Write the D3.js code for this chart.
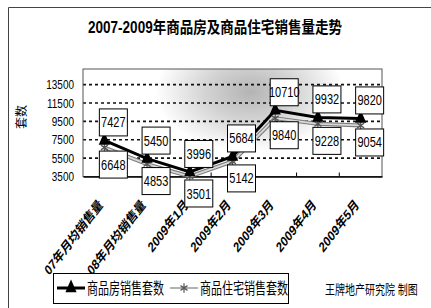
<!DOCTYPE html>
<html>
<head>
<meta charset="utf-8">
<script src="https://cdn.jsdelivr.net/npm/d3@7"></script>
<style>
  html, body { margin: 0; padding: 0; background: #fff; }
  svg { display: block; }
  text { font-family: "Liberation Sans", "Noto Sans CJK SC", sans-serif; fill: #000; }
</style>
</head>
<body>
<div id="chart"></div>
<script>
const categories = ["07年月均销售量", "08年月均销售量", "2009年1月", "2009年2月", "2009年3月", "2009年4月", "2009年5月"];
const houseSales = [7427, 5450, 3996, 5684, 10710, 9932, 9820];
const residentialSales = [6648, 4853, 3501, 5142, 9840, 9228, 9054];
const yTicks = [3500, 5500, 7500, 9500, 11500, 13500];
const seriesNames = ["商品房销售套数", "商品住宅销售套数"];
const title = "2007-2009年商品房及商品住宅销售量走势";
const yTitle = "套数";
const credit = "王牌地产研究院 制图";

const W = 431, H = 308;
const plot = {left: 83, right: 382, top: 69, bottom: 176.5};
const sy = 1.3; // the original picture is stretched vertically

let svg = d3.select("#chart")
    .append("svg")
    .attr("width", W)
    .attr("height", H);

let defs = svg.append("defs");
let grad = defs.append("radialGradient")
    .attr("id", "bg")
    .attr("gradientUnits", "userSpaceOnUse")
    .attr("cx", 0).attr("cy", 0).attr("r", 1)
    .attr("gradientTransform", "translate(250,92) scale(95,60)");
grad.append("stop").attr("offset", 0).attr("stop-color", "#b4b4b4");
grad.append("stop").attr("offset", 0.45).attr("stop-color", "#d2d2d2");
grad.append("stop").attr("offset", 1).attr("stop-color", "#ffffff");

// outer frame
svg.append("path")
    .attr("d", "M8.5," + H + "V7.5H" + W)
    .attr("fill", "none")
    .attr("stroke", "#444")
    .attr("stroke-width", 1);

// title
svg.append("text")
    .attr("transform", "translate(215,33) scale(1,1.2)")
    .attr("text-anchor", "middle")
    .attr("font-size", 13.5)
    .attr("font-weight", "bold")
    .attr("textLength", 254)
    .attr("lengthAdjust", "spacingAndGlyphs")
    .text(title);

let x = d3.scaleBand().domain(categories).range([plot.left, plot.right]);
let y = d3.scaleLinear().domain([3500, 15200]).range([plot.bottom, plot.top]);
let cx = d => x(d) + x.bandwidth() / 2;

// plot area
svg.append("rect")
    .attr("x", plot.left).attr("y", plot.top)
    .attr("width", plot.right - plot.left)
    .attr("height", plot.bottom - plot.top)
    .attr("fill", "url(#bg)");

// gridlines
svg.append("g")
    .selectAll("line")
    .data(yTicks.slice(1))
    .join("line")
    .attr("x1", plot.left).attr("x2", plot.right)
    .attr("y1", d => y(d)).attr("y2", d => y(d))
    .attr("stroke", "#111")
    .attr("stroke-width", 1.6)
    .attr("stroke-dasharray", "3,3");

svg.append("rect")
    .attr("x", plot.left).attr("y", plot.top)
    .attr("width", plot.right - plot.left)
    .attr("height", plot.bottom - plot.top)
    .attr("fill", "none")
    .attr("stroke", "#555")
    .attr("stroke-width", 1);

// x axis
let xAxis = d3.axisBottom(x).tickSize(0).tickFormat("");
svg.append("g")
    .attr("transform", "translate(0," + plot.bottom + ")")
    .call(xAxis)
    .call(g => g.select(".domain").attr("stroke", "#000").attr("stroke-width", 1.3));

svg.append("g")
    .selectAll("line")
    .data(categories.slice(1))
    .join("line")
    .attr("x1", d => x(d)).attr("x2", d => x(d))
    .attr("y1", plot.bottom).attr("y2", plot.bottom - 4)
    .attr("stroke", "#000");

svg.append("g")
    .selectAll("text")
    .data(categories)
    .join("text")
    .attr("transform", d => "translate(" + (cx(d) - 1) + "," + (plot.bottom + 29) + ") scale(1," + sy + ") rotate(-45)")
    .attr("text-anchor", "end")
    .attr("font-size", 10.8)
    .attr("font-weight", "bold")
    .text(d => d);

// y axis labels
svg.append("g")
    .selectAll("text")
    .data(yTicks)
    .join("text")
    .attr("transform", d => "translate(74," + y(d) + ") scale(1," + sy + ")")
    .attr("dy", "0.35em")
    .attr("text-anchor", "end")
    .attr("font-size", 10)
    .text(d => d);

svg.append("text")
    .attr("transform", "translate(26,117) rotate(-90)")
    .attr("text-anchor", "middle")
    .attr("font-size", 12)
    .attr("font-family", "Noto Sans CJK SC")
    .text(yTitle);

// series
let line = d3.line().x((d, i) => cx(categories[i])).y(d => y(d));

svg.append("path")
    .datum(residentialSales)
    .attr("d", line)
    .attr("fill", "none")
    .attr("stroke", "#7a7a7a")
    .attr("stroke-width", 4);
svg.append("path")
    .datum(residentialSales)
    .attr("d", line)
    .attr("fill", "none")
    .attr("stroke", "#d8d8d8")
    .attr("stroke-width", 1.8);

svg.append("path")
    .datum(houseSales)
    .attr("d", line)
    .attr("fill", "none")
    .attr("stroke", "#000")
    .attr("stroke-width", 3);

let tri = d3.symbol().type(d3.symbolTriangle).size(55);
let star = d3.symbol().type(d3.symbolAsterisk).size(45);

svg.append("g")
    .selectAll("path")
    .data(residentialSales)
    .join("path")
    .attr("transform", (d, i) => "translate(" + cx(categories[i]) + "," + y(d) + ") scale(1,1.2)")
    .attr("d", star)
    .attr("fill", "none")
    .attr("stroke", "#555")
    .attr("stroke-width", 1.2);

svg.append("g")
    .selectAll("path")
    .data(houseSales)
    .join("path")
    .attr("transform", (d, i) => "translate(" + cx(categories[i]) + "," + y(d) + ") scale(1,1.3)")
    .attr("d", tri)
    .attr("fill", "#000");

// data labels: black series above, grey series below
function labels(values, offset) {
    let g = svg.append("g")
        .selectAll("g")
        .data(values)
        .join("g")
        .attr("transform", (d, i) => "translate(" + (cx(categories[i]) + 9) + "," + (y(d) + offset) + ")");
    g.append("rect")
        .attr("x", -14).attr("y", -13.5)
        .attr("width", 28).attr("height", 27)
        .attr("fill", "#fff")
        .attr("stroke", "#000")
        .attr("stroke-width", 1);
    g.append("text")
        .attr("transform", "scale(1," + sy + ")")
        .attr("dy", "0.35em")
        .attr("text-anchor", "middle")
        .attr("font-size", 11)
        .text(d => d);
}
labels(houseSales, -18);
labels(residentialSales, 17);

// legend
let lg = svg.append("g");
lg.append("rect")
    .attr("x", 53.5).attr("y", 273.5)
    .attr("width", 235).attr("height", 30)
    .attr("fill", "#fff")
    .attr("stroke", "#000");
lg.append("line")
    .attr("x1", 57).attr("x2", 85).attr("y1", 288).attr("y2", 288)
    .attr("stroke", "#000").attr("stroke-width", 3);
lg.append("path")
    .attr("transform", "translate(71,288) scale(1,1.3)")
    .attr("d", tri).attr("fill", "#000");
lg.append("line")
    .attr("x1", 170).attr("x2", 198).attr("y1", 288).attr("y2", 288)
    .attr("stroke", "#999").attr("stroke-width", 1.5);
lg.append("path")
    .attr("transform", "translate(184,288) scale(1,1.2)")
    .attr("d", star).attr("fill", "none")
    .attr("stroke", "#555").attr("stroke-width", 1.2);
lg.selectAll("text.name")
    .data(seriesNames)
    .join("text")
    .attr("class", "name")
    .attr("transform", (d, i) => "translate(" + [87, 200][i] + ",288) scale(1,1.4)")
    .attr("dy", "0.38em")
    .attr("font-size", 11)
    .attr("font-family", "Noto Sans CJK SC")
    .text(d => d);

svg.append("text")
    .attr("transform", "translate(325,289) scale(1,1.3)")
    .attr("dy", "0.38em")
    .attr("font-size", 10)
    .attr("font-family", "Noto Sans CJK SC")
    .text(credit);
</script>
</body>
</html>
